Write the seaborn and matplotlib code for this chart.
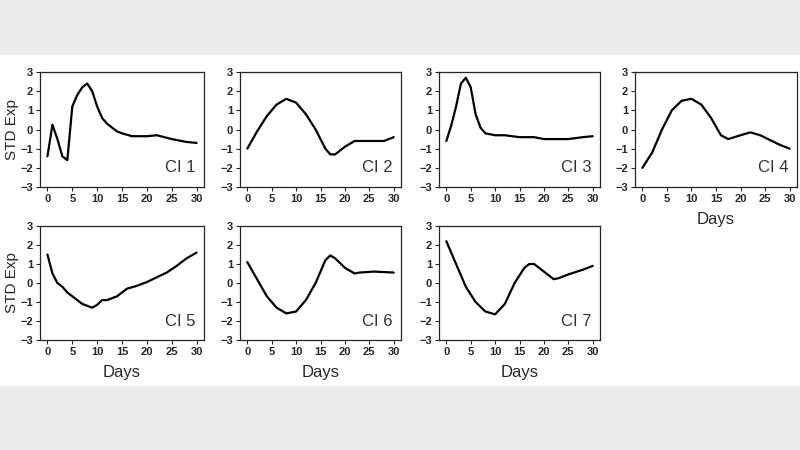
import matplotlib
matplotlib.use("Agg")
import matplotlib.pyplot as plt
import seaborn as sns
import pandas as pd
from matplotlib.patches import Rectangle

sns.set_theme(style="ticks")
plt.rcParams['font.family'] = ['Liberation Sans', 'DejaVu Sans']

# values (day, STD Exp)
ci1_days = [0, 1, 2, 3, 4, 5, 6, 7, 8, 9, 10, 11, 12, 13, 14, 15, 17, 20, 22, 25, 28, 30]
ci1_vals = [-1.4, 0.25, -0.5, -1.4, -1.6, 1.2, 1.8, 2.2, 2.4, 2.0, 1.2, 0.6, 0.3, 0.1, -0.1, -0.2, -0.35, -0.35, -0.3, -0.5, -0.65, -0.7]
ci2_days = [0, 2, 4, 6, 8, 10, 12, 14, 16, 17, 18, 20, 22, 25, 28, 30]
ci2_vals = [-1.0, -0.1, 0.7, 1.3, 1.6, 1.4, 0.8, 0.0, -1.0, -1.3, -1.3, -0.9, -0.6, -0.6, -0.6, -0.4]
ci3_days = [0, 1, 2, 3, 4, 5, 6, 7, 8, 10, 12, 15, 18, 20, 23, 25, 28, 30]
ci3_vals = [-0.6, 0.2, 1.2, 2.4, 2.7, 2.2, 0.8, 0.1, -0.2, -0.3, -0.3, -0.4, -0.4, -0.5, -0.5, -0.5, -0.4, -0.35]
ci4_days = [0, 2, 4, 6, 8, 10, 12, 14, 16, 17.5, 20, 22, 24, 26, 28, 30]
ci4_vals = [-2.0, -1.2, 0.0, 1.0, 1.5, 1.6, 1.3, 0.6, -0.3, -0.5, -0.3, -0.15, -0.3, -0.55, -0.8, -1.0]
ci5_days = [0, 1, 2, 3, 4, 5, 6, 7, 8, 9, 10, 11, 12, 14, 16, 18, 20, 22, 24, 26, 28, 30]
ci5_vals = [1.5, 0.5, 0.0, -0.2, -0.5, -0.7, -0.9, -1.1, -1.2, -1.3, -1.15, -0.9, -0.9, -0.7, -0.3, -0.15, 0.05, 0.3, 0.55, 0.9, 1.3, 1.6]
ci6_days = [0, 2, 4, 6, 8, 10, 12, 14, 16, 17, 18, 20, 22, 23, 26, 30]
ci6_vals = [1.1, 0.2, -0.7, -1.3, -1.6, -1.5, -0.9, 0.0, 1.2, 1.45, 1.3, 0.8, 0.5, 0.55, 0.6, 0.55]
ci7_days = [0, 2, 4, 6, 8, 10, 12, 14, 16, 17, 18, 20, 22, 23, 25, 28, 30]
ci7_vals = [2.2, 1.0, -0.2, -1.0, -1.5, -1.65, -1.1, 0.0, 0.8, 1.0, 1.0, 0.6, 0.2, 0.25, 0.45, 0.7, 0.9]

series = [("CI 1", ci1_days, ci1_vals), ("CI 2", ci2_days, ci2_vals),
          ("CI 3", ci3_days, ci3_vals), ("CI 4", ci4_days, ci4_vals),
          ("CI 5", ci5_days, ci5_vals), ("CI 6", ci6_days, ci6_vals),
          ("CI 7", ci7_days, ci7_vals)]

W, H = 800, 450
fig = plt.figure(figsize=(8, 4.5), dpi=100, facecolor="#ececec")
bg = Rectangle((0, 1 - 385 / H), 1, (385 - 55) / H,
               transform=fig.transFigure, color="white", zorder=-10)
fig.add_artist(bg)

# pixel boxes: left, top, right, bottom
boxes = [(40, 72, 204, 187), (240, 72, 401, 187), (439, 72, 600, 187), (635, 72, 797, 187),
         (40, 226, 204, 340), (240, 226, 401, 340), (439, 226, 600, 340)]

for (name, d, v), (l, t, r, b) in zip(series, boxes):
    ax = fig.add_axes([l / W, 1 - b / H, (r - l) / W, (b - t) / H])
    ax.set_zorder(5)
    df = pd.DataFrame({"day": d, "val": v})
    sns.lineplot(data=df, x="day", y="val", ax=ax, color="black", linewidth=1.6)
    ax.set_xlim(-1.5, 31.5)
    ax.set_ylim(-3, 3)
    ax.set_xticks(range(0, 31, 5))
    ax.set_yticks(range(-3, 4))
    ax.tick_params(labelsize=8, length=3, width=0.8, pad=2)
    for lab in ax.get_xticklabels() + ax.get_yticklabels():
        lab.set_fontweight("bold")
    for s in ax.spines.values():
        s.set_linewidth(0.9)
    ax.set_xlabel("")
    ax.set_ylabel("")
    ax.text(0.95, 0.1, name, transform=ax.transAxes, ha="right", va="bottom",
            fontsize=12, color="#333333")
    if name in ("CI 1", "CI 5"):
        ax.set_ylabel("STD Exp", fontsize=11, labelpad=1)
    if name in ("CI 4", "CI 5", "CI 6", "CI 7"):
        ax.set_xlabel("Days", fontsize=12, labelpad=6)

fig.savefig("out.png", dpi=100, facecolor=fig.get_facecolor())
